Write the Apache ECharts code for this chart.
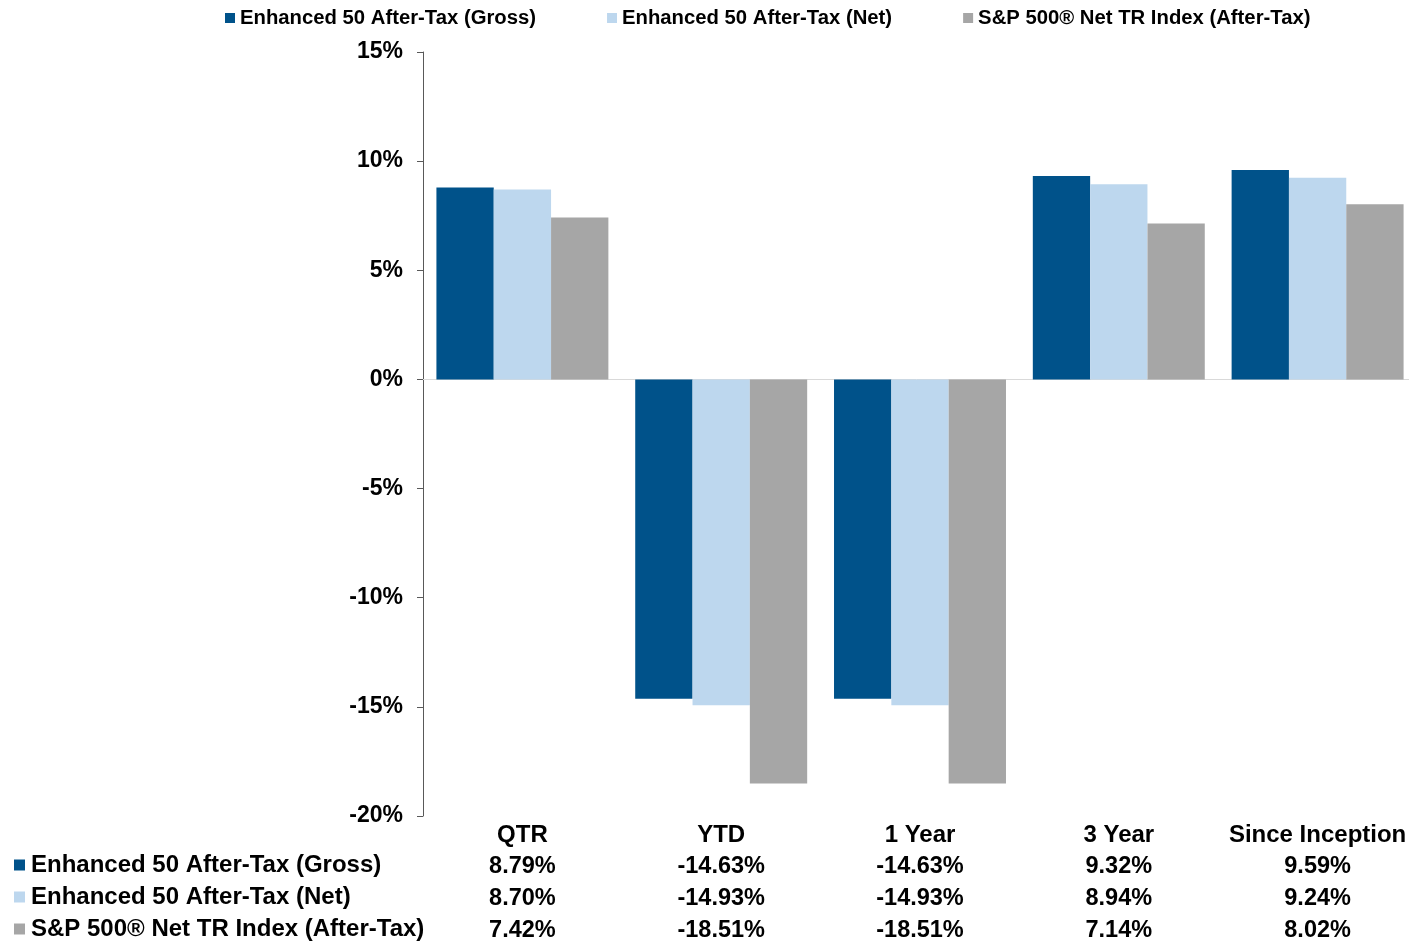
<!DOCTYPE html>
<html>
<head>
<meta charset="utf-8">
<title>Enhanced 50 After-Tax performance</title>
<script src="https://cdn.jsdelivr.net/npm/echarts@6/dist/echarts.min.js"></script>
<style>
  html, body { margin: 0; padding: 0; background: #fff; }
  #chart { width: 1409px; height: 941px; }
</style>
</head>
<body>
<div id="chart"></div>
<script>
// periods and returns (%)
var periods = ['QTR', 'YTD', '1 Year', '3 Year', 'Since Inception'];
var seriesNames = [
  'Enhanced 50 After-Tax (Gross)',
  'Enhanced 50 After-Tax (Net)',
  'S&P 500\u00AE Net TR Index (After-Tax)'
];
var gross = [8.79, -14.63, -14.63, 9.32, 9.59];
var net = [8.70, -14.93, -14.93, 8.94, 9.24];
var spx = [7.42, -18.51, -18.51, 7.14, 8.02];
var colors = ['#00528A', '#BDD7EE', '#A6A6A6'];

var font = '"Liberation Sans", Arial, sans-serif';
var pct = function (v) { return v.toFixed(2) + '%'; };

var chart = echarts.init(document.getElementById('chart'));

var option = {
  animation: false,
  color: colors,
  textStyle: { fontFamily: font },
  legend: [{
    // top legend
    data: seriesNames,
    left: 225,
    top: 6,
    padding: 0,
    itemWidth: 10,
    itemHeight: 10,
    itemGap: 71,
    icon: 'rect',
    textStyle: { fontSize: 20.3, fontWeight: 'bold', color: '#000', lineHeight: 24 }
  }, {
    // row labels of the data table
    data: seriesNames,
    orient: 'vertical',
    left: 14,
    top: 853,
    height: 110,
    padding: 0,
    itemWidth: 11,
    itemHeight: 11,
    itemGap: 8,
    icon: 'rect',
    textStyle: { fontSize: 24, fontWeight: 'bold', color: '#000', lineHeight: 24, padding: [0, 0, 0, 1] }
  }],
  grid: {
    left: 423,
    width: 994,
    top: 52,
    bottom: 125,
    containLabel: false,
    outerBoundsMode: 'none'
  },
  xAxis: {
    type: 'category',
    data: periods,
    axisLine: { show: false, onZero: false },
    axisTick: { show: false },
    axisLabel: {
      interval: 0,
      margin: 3,
      formatter: function (val, i) {
        return '{c|' + val + '}\n{v|' + pct(gross[i]) + '}\n{v|' + pct(net[i]) + '}\n{v|' + pct(spx[i]) + '}';
      },
      rich: {
        c: { fontSize: 24, fontWeight: 'bold', color: '#000', lineHeight: 32, fontFamily: font },
        v: { fontSize: 23.5, fontWeight: 'bold', color: '#000', lineHeight: 32, fontFamily: font }
      }
    }
  },
  yAxis: {
    type: 'value',
    min: -20,
    max: 15,
    interval: 5,
    axisLine: { show: true, lineStyle: { color: '#595959', width: 1 } },
    axisTick: { show: true, length: 6, lineStyle: { color: '#595959' } },
    splitLine: { show: false },
    axisLabel: {
      margin: 20,
      fontSize: 23,
      fontWeight: 'bold',
      color: '#000',
      fontFamily: font,
      padding: [8, 0, 0, 0],
      formatter: function (v) { return v + '%'; }
    }
  },
  series: [{
    name: seriesNames[0],
    type: 'bar',
    data: gross,
    barGap: '0%',
    barCategoryGap: '13.5%',
    z: 3,
    markLine: {
      silent: true,
      symbol: 'none',
      label: { show: false },
      lineStyle: { color: '#D9D9D9', width: 1, type: 'solid' },
      data: [{ yAxis: 0 }],
      z: 1
    }
  }, {
    name: seriesNames[1],
    type: 'bar',
    data: net,
    barGap: '0%',
    barCategoryGap: '13.5%',
    z: 3
  }, {
    name: seriesNames[2],
    type: 'bar',
    data: spx,
    barGap: '0%',
    barCategoryGap: '13.5%',
    z: 3
  }]
};

chart.setOption(option);
</script>
</body>
</html>
